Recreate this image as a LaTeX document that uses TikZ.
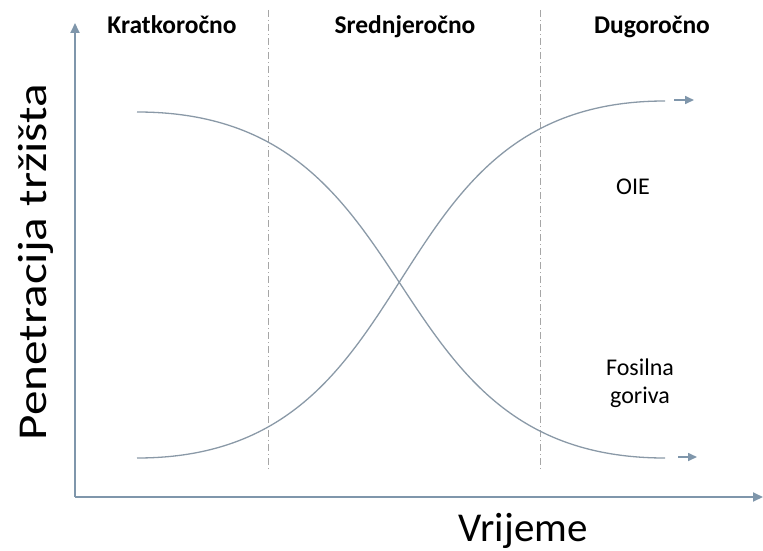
\documentclass[tikz,border=0pt]{standalone}
\usepackage{fontspec}
\setmainfont{Carlito}
\usepackage{tikz}
\usetikzlibrary{arrows.meta,positioning,calc}
\definecolor{axisblue}{HTML}{7F96AB}
\definecolor{curvegrey}{HTML}{8A99A7}
\tikzset{
	axis/.style={
		draw=axisblue, line width=1.8pt, -{Triangle[width=9pt,length=10pt]}
	},
	%
	curve/.style={
		draw=curvegrey, line width=1.3pt
	},
	%
	trend/.style={
		draw=axisblue, line width=1.6pt, -{Triangle[width=8pt,length=9pt]}
	},
	%
	divider/.style={
		draw=gray!70, line width=0.9pt, dash pattern=on 7pt off 3pt on 1pt off 3pt
	},
	%
	period/.style={
		anchor=base, font=\bfseries\fontsize{25.5}{29}\selectfont
	},
	%
	curvelabel/.style={
		font=\fontsize{24}{28}\selectfont, align=center
	},
	%
	axislabel/.style={
		anchor=base, font=\fontsize{41}{46}\selectfont
	}
}

\begin{document}
\begin{tikzpicture}[x=1pt,y=-1pt]
\useasboundingbox (0,0) rectangle (763,551);

%axes
\coordinate (O) at (75,497);
\coordinate (ytop) at (75,23);
\coordinate (xend) at (763,497);
\draw[axis] (O) to (ytop);
\draw[axis] (O) to (xend);
\node (ylab) [axislabel, rotate=90] at (46,262) {\scalebox{1.2}[1]{Penetracija tržišta}};
\node (xlab) [axislabel] at (523,541) {Vrijeme};

%periods
\coordinate (d1top) at (268,10);
\coordinate (d1bot) at (268,472);
\coordinate (d2top) at (540,10);
\coordinate (d2bot) at (540,472);
\draw[divider] (d1top) to (d1bot);
\draw[divider] (d2top) to (d2bot);
\node (short) [period] at (172,34) {Kratkoročno};
\node (mid) [period] at (405,34) {Srednjeročno};
\node (long) [period] at (652,34) {Dugoročno};

%curves
\coordinate (fosStart) at (137,112);
\coordinate (fosEnd) at (665,458);
\coordinate (oieStart) at (137,458);
\coordinate (oieEnd) at (665,101);
\draw[curve] (fosStart) .. controls +(300,0) and +(-300,0) .. (fosEnd);
\draw[curve] (oieStart) .. controls +(300,0) and +(-300,0) .. (oieEnd);

%arrows
\coordinate (oieA) at (674,100);
\coordinate (oieB) at (694,100);
\coordinate (fosA) at (678,457);
\coordinate (fosB) at (697,457);
\draw[trend] (oieA) to (oieB);
\draw[trend] (fosA) to (fosB);

\node (oie) [curvelabel] at (633,187) {OIE};
\node (fos) [curvelabel] at (640,383) {Fosilna\\goriva};

\end{tikzpicture}
\end{document}
